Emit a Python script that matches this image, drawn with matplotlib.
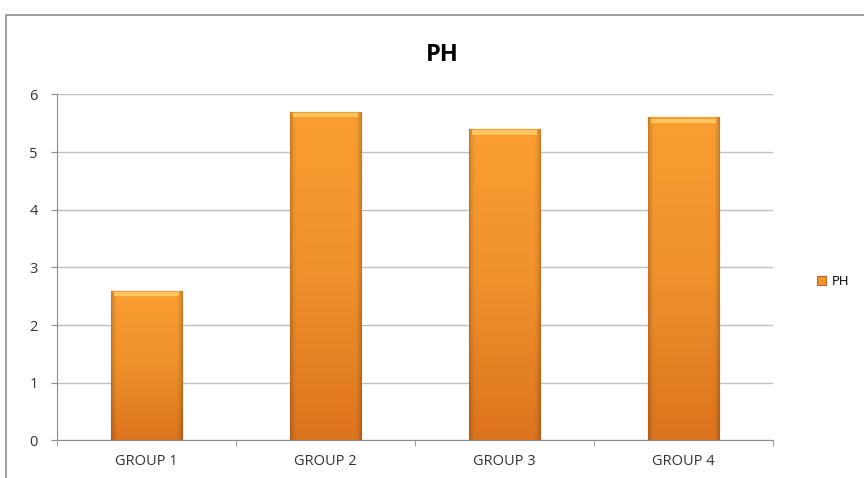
import matplotlib.pyplot as plt
import numpy as np
from matplotlib.patches import Rectangle
from matplotlib.colors import LinearSegmentedColormap

groups = ['GROUP 1', 'GROUP 2', 'GROUP 3', 'GROUP 4']
ph = [2.6, 5.7, 5.4, 5.6]

plt.rcParams['font.family'] = ['Open Sans', 'DejaVu Sans']

fig = plt.figure(figsize=(8.64, 4.78), dpi=100)
ax = fig.add_axes([0.066, 0.0785, 0.8287, 0.724])

# chart frame
fig.patches.append(Rectangle((6 / 864, -0.1), 1.2, 1 - 15 / 478 + 0.1,
                             transform=fig.transFigure, fill=False,
                             edgecolor='#8c8c8c', linewidth=1.2))

x = np.arange(len(groups))
width = 0.4
bars = ax.bar(x, ph, width=width, color='#f39130', edgecolor='#b9651c',
              linewidth=0.8, zorder=2, label='PH')

# vertical + horizontal shading to mimic the bevelled Excel bars
vert = LinearSegmentedColormap.from_list('v', ['#dc741e', '#f0912c', '#fa9e32'])
u = np.linspace(0, 1, 80)
side = np.clip(np.minimum(u, 1 - u) / 0.08, 0, 1) ** 0.6
for b in bars:
    x0, w, h = b.get_x(), b.get_width(), b.get_height()
    grad = np.linspace(0, 1, 100)[:, None]
    rgba = vert(grad)[:, :, :3] * np.ones((1, len(side), 1))
    rgba = rgba * (0.78 + 0.22 * side)[None, :, None]
    im = ax.imshow(rgba, extent=(x0, x0 + w, 0, h), origin='lower',
                   aspect='auto', zorder=2.5, interpolation='bilinear')
    im.set_clip_path(b)
    ax.add_patch(Rectangle((x0 + w * 0.05, h - 0.1), w * 0.9, 0.08,
                           facecolor='#fdc55c', edgecolor='none', zorder=3))

ax.set_xlim(-0.5, 3.5)
ax.set_ylim(0, 6)
ax.set_yticks(range(7))
ax.set_xticks(x)
ax.set_xticklabels(groups)
ax.set_xticks(np.arange(-0.5, 4, 1), minor=True)
ax.tick_params(axis='x', which='major', length=0, pad=10, labelsize=10.5,
               labelcolor='#333333')
ax.tick_params(axis='x', which='minor', length=4, color='#8c8c8c', direction='out')
ax.tick_params(axis='y', length=4, color='#8c8c8c', pad=10, labelsize=10.5,
               labelcolor='#333333')
ax.grid(axis='y', color='#bfbfbf', linewidth=1, zorder=0)
for s in ['top', 'right']:
    ax.spines[s].set_visible(False)
ax.spines['left'].set_color('#8c8c8c')
ax.spines['bottom'].set_color('#8c8c8c')

fig.text(0.512, 0.885, 'PH', ha='center', va='center', fontsize=17,
         fontweight='bold')

ax.legend(loc='center left', bbox_to_anchor=(1.045, 0.46), frameon=False,
          fontsize=9.5, handlelength=0.7, handleheight=0.7, handletextpad=0.4)

fig.savefig('out.png', dpi=100)
